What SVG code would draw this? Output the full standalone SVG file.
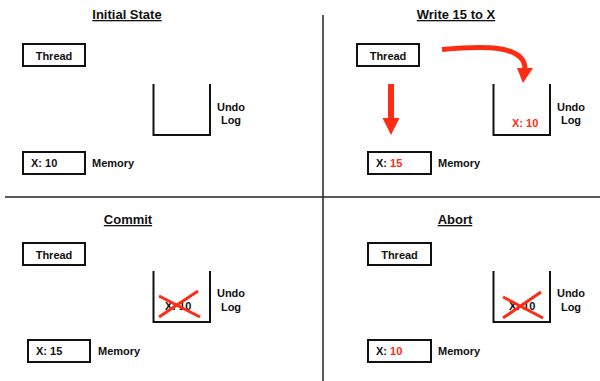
<svg xmlns="http://www.w3.org/2000/svg" width="600" height="381" viewBox="0 0 600 381">
<style>
text{font-family:"Liberation Sans",Arial,sans-serif;font-weight:bold;fill:#111}
.t{font-size:11px}
.h{font-size:13px;text-anchor:middle;text-decoration:underline}
.c{text-anchor:middle}
.red{fill:#FF2C14}
.box{fill:#fff;stroke:#111;stroke-width:2}
.bucket{fill:none;stroke:#111;stroke-width:2}
.div{stroke:#222;stroke-width:1.5}
.x{stroke:#FF2C14;stroke-width:3;stroke-linecap:butt}
</style>
<rect width="600" height="381" fill="#fff"/>
<g id="dividers">
<line class="div" x1="5" y1="197" x2="600" y2="197"/>
<line class="div" x1="323" y1="15" x2="323" y2="381"/>
</g>
<g id="initial-state">
<text class="h" x="127" y="19">Initial State</text>
<g id="thread-1"><rect class="box" x="23" y="44" width="62" height="22"/><text class="t c" x="54" y="60">Thread</text></g>
<g id="undo-1"><path class="bucket" d="M153.5 84V135H210V84"/><text class="t c" x="231" y="111">Undo</text><text class="t c" x="231" y="124">Log</text></g>
<g id="mem-1"><rect class="box" x="23" y="152" width="62" height="22"/><text class="t" x="31" y="167">X: 10</text><text class="t" x="92" y="167">Memory</text></g>
</g>
<g id="write">
<text class="h" x="456" y="19">Write 15 to X</text>
<g id="thread-2"><rect class="box" x="357" y="44" width="62" height="22"/><text class="t c" x="388" y="60">Thread</text></g>
<g id="undo-2"><path class="bucket" d="M493.5 84V135H550V84"/><text class="t red" x="512" y="127">X: 10</text><text class="t c" x="571" y="111">Undo</text><text class="t c" x="571" y="124">Log</text></g>
<g id="mem-2"><rect class="box" x="368" y="152" width="63" height="22"/><text class="t" x="376" y="167">X: <tspan class="red">15</tspan></text><text class="t" x="438" y="167">Memory</text></g>
</g>
<g id="connectors">
<rect x="388" y="84" width="6" height="35" fill="#FF2C14"/>
<polygon points="382.5,118 399.5,118 391,135" fill="#FF2C14"/>
<path d="M442 49.5C480 46 525 44 525 69" fill="none" stroke="#FF2C14" stroke-width="5"/>
<polygon points="517,68 533,68 523,83" fill="#FF2C14"/>
</g>
<g id="commit">
<text class="h" x="128" y="224">Commit</text>
<g id="thread-3"><rect class="box" x="23" y="243" width="62" height="22"/><text class="t c" x="54" y="259">Thread</text></g>
<g id="undo-3"><path class="bucket" d="M153.5 271V322H210V271"/><text class="t" x="165" y="310">X: 10</text><line class="x" x1="159" y1="296" x2="200" y2="317"/><line class="x" x1="159" y1="317" x2="198" y2="291"/><text class="t c" x="231" y="297">Undo</text><text class="t c" x="231" y="311">Log</text></g>
<g id="mem-3"><rect class="box" x="28" y="340" width="62" height="22"/><text class="t" x="36" y="355">X: 15</text><text class="t" x="98" y="355">Memory</text></g>
</g>
<g id="abort">
<text class="h" x="455" y="224">Abort</text>
<g id="thread-4"><rect class="box" x="368" y="243" width="63" height="22"/><text class="t c" x="399.5" y="259">Thread</text></g>
<g id="undo-4"><path class="bucket" d="M493.5 271V322H550V271"/><text class="t" x="509" y="310">X: 10</text><line class="x" x1="503" y1="297" x2="543" y2="318"/><line class="x" x1="503" y1="318" x2="541" y2="292"/><text class="t c" x="571" y="297">Undo</text><text class="t c" x="571" y="311">Log</text></g>
<g id="mem-4"><rect class="box" x="368" y="340" width="63" height="22"/><text class="t" x="376" y="355">X: <tspan class="red">10</tspan></text><text class="t" x="438" y="355">Memory</text></g>
</g>
</svg>
